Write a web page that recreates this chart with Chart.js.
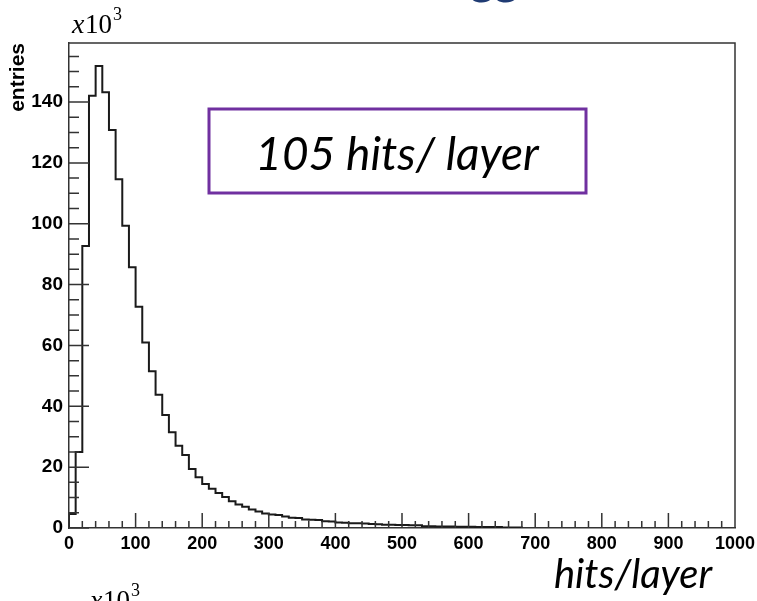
<!DOCTYPE html>
<html>
<head>
<meta charset="utf-8">
<script src="https://cdn.jsdelivr.net/npm/chart.js@4.4.1/dist/chart.umd.min.js"></script>
<style>
  html, body { margin: 0; padding: 0; background: #fff; }
  canvas { display: block; }
</style>
</head>
<body>
<canvas id="hist" width="757" height="601"></canvas>
<script>
// hits per layer, bins of 10 hits starting at 0; entries in units of 10^3
const binWidth = 10;
const binCounts = [
  4.6, 25.0, 92.7, 142.1, 151.8, 143.2, 130.8, 114.6, 99.3, 85.7,
  72.7, 61.0, 51.5, 43.8, 37.1, 31.5, 27.0, 24.0, 19.4, 16.7,
  14.5, 12.9, 11.5, 10.2, 8.8, 7.7, 7.0, 6.1, 5.4, 4.8,
  4.4, 4.3, 3.8, 3.4, 3.3, 2.8, 2.7, 2.6, 2.2, 2.1,
  1.8, 1.7, 1.6, 1.6, 1.5, 1.3, 1.2, 1.1, 1.1, 1.0,
  1.0, 0.9, 0.9, 0.6, 0.6, 0.5, 0.5, 0.5, 0.4, 0.4,
  0.4, 0.3, 0.3, 0.3, 0.3, 0.2, 0.2, 0.2
];
const xMin = 0, xMax = 1000, xStep = 100, xMinorStep = 20;
const yMin = 0, yMax = 159.4, yStep = 20, yMinorStep = 5;
const yTitle = "entries";
const xTitle = "hits/layer";
const boxLabel = "105 hits/ layer";

// histogram outline as stepped points (left edge of every bin)
const points = [{ x: 0, y: 0 }];
binCounts.forEach((c, i) => points.push({ x: i * binWidth, y: c }));
points.push({ x: binCounts.length * binWidth, y: 0 });

Chart.defaults.font.family = "'Liberation Sans', Arial, sans-serif";
Chart.defaults.color = "#000";

function drawPower(ctx, x, y) {
  // "x10^3" in a Times style
  ctx.font = "italic 28px 'Liberation Serif', serif";
  ctx.fillText("x", x, y);
  ctx.font = "27px 'Liberation Serif', serif";
  ctx.fillText("10", x + 13, y);
  ctx.font = "18px 'Liberation Serif', serif";
  ctx.fillText("3", x + 41, y - 13);
}

const decorations = {
  id: "decorations",
  afterDraw(chart) {
    const ctx = chart.ctx;
    const a = chart.chartArea;
    const xs = chart.scales.x, ys = chart.scales.y;
    ctx.save();
    // frame + tick marks inside the plot
    ctx.strokeStyle = "#333";
    ctx.lineWidth = 1.5;
    ctx.beginPath();
    ctx.moveTo(a.left, a.top);
    ctx.lineTo(a.right, a.top);
    ctx.lineTo(a.right, a.bottom);
    for (let v = yMin; v <= yMax; v += yMinorStep) {
      const y = ys.getPixelForValue(v);
      const len = v % yStep === 0 ? 20 : 10;
      ctx.moveTo(a.left, y);
      ctx.lineTo(a.left + len, y);
    }
    for (let v = xMin; v <= xMax; v += xMinorStep) {
      const x = xs.getPixelForValue(v);
      const len = v % xStep === 0 ? 15 : 7;
      ctx.moveTo(x, a.bottom);
      ctx.lineTo(x, a.bottom - len);
    }
    ctx.stroke();

    ctx.fillStyle = "#000";
    ctx.textAlign = "left";
    ctx.textBaseline = "alphabetic";
    drawPower(ctx, a.left + 3, a.top - 10);
    drawPower(ctx, a.left + 21, a.bottom + 81);

    // y title, rotated, flush with the top of the axis
    ctx.save();
    ctx.translate(24, a.top);
    ctx.rotate(-Math.PI / 2);
    ctx.font = "bold 21px 'Liberation Sans', Arial, sans-serif";
    ctx.textAlign = "right";
    ctx.fillText(yTitle, 0, 0);
    ctx.restore();

    // x title
    ctx.font = "italic 40px Lato, 'Open Sans', sans-serif";
    ctx.textAlign = "center";
    ctx.fillText(xTitle, 633, 588);

    // boxed note
    ctx.strokeStyle = "#7030a0";
    ctx.lineWidth = 3;
    ctx.strokeRect(209, 109, 377, 84);
    ctx.font = "italic 46px Lato, 'Open Sans', sans-serif";
    ctx.fillText(boxLabel, 397, 170);

    // bottom of the slide heading above the plot
    ctx.fillStyle = "#1f3b73";
    ctx.textAlign = "left";
    ctx.font = "bold 46px Lato, sans-serif";
    ctx.fillText("gg", 470, -6);
    ctx.restore();
  }
};

new Chart(document.getElementById("hist"), {
  type: "line",
  data: {
    datasets: [{
      label: "hits per layer",
      data: points,
      stepped: "before",
      borderColor: "#1a1a1a",
      borderWidth: 2,
      pointRadius: 0,
      fill: false,
      tension: 0
    }]
  },
  options: {
    responsive: false,
    animation: false,
    devicePixelRatio: 1,
    layout: { padding: { top: 43, right: 22, left: 0, bottom: 0 } },
    plugins: { legend: { display: false }, tooltip: { enabled: false } },
    scales: {
      x: {
        type: "linear",
        min: xMin,
        max: xMax,
        afterFit: s => { s.height = 73; s.paddingRight = 0; },
        grid: { display: false, drawTicks: false },
        border: { display: true, color: "#333", width: 1.5 },
        ticks: {
          stepSize: xStep,
          autoSkip: false,
          maxRotation: 0,
          padding: 5,
          callback: v => String(v),
          font: { size: 18, weight: "bold" },
          color: "#000"
        }
      },
      y: {
        type: "linear",
        min: yMin,
        max: yMax,
        afterFit: s => { s.width = 69; },
        grid: { display: false, drawTicks: false },
        border: { display: true, color: "#333", width: 1.5 },
        ticks: {
          stepSize: yStep,
          includeBounds: false,
          padding: 6,
          font: { size: 19, weight: "bold" },
          color: "#000"
        }
      }
    }
  },
  plugins: [decorations]
});
</script>
</body>
</html>
